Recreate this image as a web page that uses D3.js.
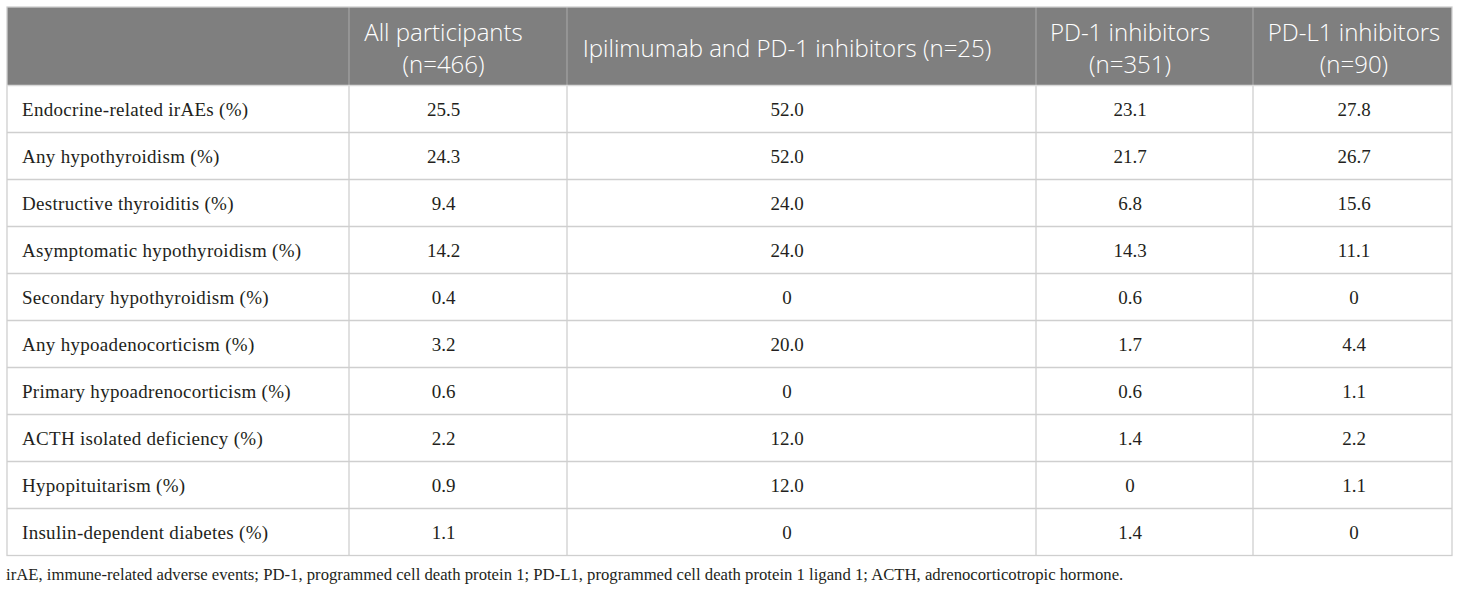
<!DOCTYPE html>
<html>
<head>
<meta charset="utf-8">
<script src="https://cdn.jsdelivr.net/npm/d3@7"></script>
<style>
  html, body { margin: 0; padding: 0; background: #ffffff; }
  svg { display: block; }
</style>
</head>
<body>
<svg id="chart" width="1460" height="592"></svg>
<script>
// ---- data ----
const rowLabels = [
  "Endocrine-related irAEs (%)",
  "Any hypothyroidism (%)",
  "Destructive thyroiditis (%)",
  "Asymptomatic hypothyroidism (%)",
  "Secondary hypothyroidism (%)",
  "Any hypoadenocorticism (%)",
  "Primary hypoadrenocorticism (%)",
  "ACTH isolated deficiency (%)",
  "Hypopituitarism (%)",
  "Insulin-dependent diabetes (%)"
];
const allParticipants = [25.5, 24.3, 9.4, 14.2, 0.4, 3.2, 0.6, 2.2, 0.9, 1.1];
const ipilimumabPD1   = [52.0, 52.0, 24.0, 24.0, 0, 20.0, 0, 12.0, 12.0, 0];
const pd1Inhibitors   = [23.1, 21.7, 6.8, 14.3, 0.6, 1.7, 0.6, 1.4, 0, 1.4];
const pdl1Inhibitors  = [27.8, 26.7, 15.6, 11.1, 0, 4.4, 1.1, 2.2, 1.1, 0];
const columnHeaders = [
  [""],
  ["All participants", "(n=466)"],
  ["Ipilimumab and PD-1 inhibitors (n=25)"],
  ["PD-1 inhibitors", "(n=351)"],
  ["PD-L1 inhibitors", "(n=90)"]
];
const footnote = "irAE, immune-related adverse events; PD-1, programmed cell death protein 1; PD-L1, programmed cell death protein 1 ligand 1; ACTH, adrenocorticotropic hormone.";

const series = [allParticipants, ipilimumabPD1, pd1Inhibitors, pdl1Inhibitors];

// ---- layout ----
const svg = d3.select("#chart");
const tableLeft = 7, tableRight = 1452, tableTop = 7, headerBottom = 85.5, tableBottom = 555.5;
const colEdges = [tableLeft, 349, 567, 1036, 1253, tableRight];
const colIdx = d3.range(columnHeaders.length);
const colX0 = d3.scaleOrdinal().domain(colIdx).range(colEdges.slice(0, -1));
const colX1 = d3.scaleOrdinal().domain(colIdx).range(colEdges.slice(1));
const contentShift = [0, -14.5, -14.5, -14.5, 1.5];
const colCenter = i => (colX0(i) + colX1(i)) / 2 + contentShift[i];

const y = d3.scaleBand().domain(rowLabels).range([headerBottom, tableBottom]).paddingInner(0).paddingOuter(0);

const fmt = v => v === 0 ? "0" : d3.format(".1f")(v);

const serif = "'Liberation Serif', 'Times New Roman', serif";
const sans = "'Open Sans', 'Noto Sans', sans-serif";
const lineColor = "#cfcfcf";
const textColor = "#231f20";

// header background
svg.append("rect")
  .attr("x", tableLeft).attr("y", tableTop)
  .attr("width", tableRight - tableLeft).attr("height", headerBottom - tableTop)
  .attr("fill", "#7f7f7f");

// header vertical separators
svg.append("g").selectAll("line")
  .data(colEdges.slice(1, -1))
  .join("line")
  .attr("x1", d => d).attr("x2", d => d)
  .attr("y1", tableTop).attr("y2", headerBottom)
  .attr("stroke", "#a3a3a3").attr("stroke-width", 1.2);

// body vertical separators
svg.append("g").selectAll("line")
  .data(colEdges.slice(1, -1))
  .join("line")
  .attr("x1", d => d).attr("x2", d => d)
  .attr("y1", headerBottom).attr("y2", tableBottom)
  .attr("stroke", lineColor).attr("stroke-width", 1.3);

// row separators
svg.append("g").selectAll("line")
  .data(rowLabels.slice(1))
  .join("line")
  .attr("x1", tableLeft).attr("x2", tableRight)
  .attr("y1", d => y(d)).attr("y2", d => y(d))
  .attr("stroke", lineColor).attr("stroke-width", 1.3);

// outer border
svg.append("rect")
  .attr("x", tableLeft).attr("y", tableTop)
  .attr("width", tableRight - tableLeft).attr("height", tableBottom - tableTop)
  .attr("fill", "none").attr("stroke", lineColor).attr("stroke-width", 1.3);
svg.append("line")
  .attr("x1", tableLeft).attr("x2", tableRight)
  .attr("y1", headerBottom).attr("y2", headerBottom)
  .attr("stroke", "#d9d9d9").attr("stroke-width", 1.3);

// header text
const headerMid = (tableTop + headerBottom) / 2;
const headerLineGap = 32;
const hg = svg.append("g").attr("font-family", sans).attr("font-size", 24)
  .attr("font-weight", 300).attr("fill", "#ffffff");
colIdx.forEach(i => {
  const lines = columnHeaders[i];
  const n = lines.length;
  hg.append("text")
    .attr("x", colCenter(i))
    .attr("text-anchor", "middle")
    .selectAll("tspan")
    .data(lines)
    .join("tspan")
    .attr("x", colCenter(i))
    .attr("y", (d, k) => headerMid + (k - (n - 1) / 2) * headerLineGap + 11)
    .text(d => d);
});

// row labels
svg.append("g").attr("font-family", serif).attr("font-size", 19).attr("fill", textColor)
  .attr("letter-spacing", 0.3)
  .selectAll("text")
  .data(rowLabels)
  .join("text")
  .attr("x", 22)
  .attr("y", d => y(d) + y.bandwidth() / 2 + 6.5)
  .text(d => d);

// values
series.forEach((vals, s) => {
  const ci = s + 1;
  svg.append("g").attr("font-family", serif).attr("font-size", 19).attr("fill", textColor)
    .attr("text-anchor", "middle")
    .selectAll("text")
    .data(vals)
    .join("text")
    .attr("x", colCenter(ci))
    .attr("y", (d, r) => y(rowLabels[r]) + y.bandwidth() / 2 + 6.5)
    .text(d => fmt(d));
});

// footnote
svg.append("text")
  .attr("x", 6).attr("y", 580)
  .attr("font-family", serif).attr("font-size", 16.7).attr("fill", textColor)
  .text(footnote);
</script>
</body>
</html>
